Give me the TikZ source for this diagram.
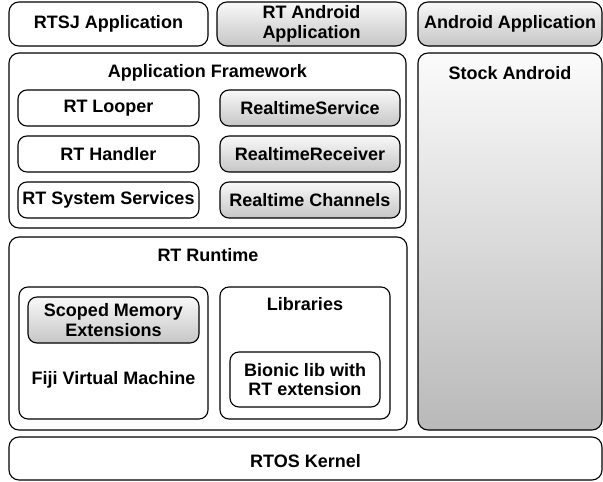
\documentclass[tikz,border=0pt]{standalone}
\usepackage{fontspec}
\setmainfont{Liberation Sans}
\begin{document}
\begin{tikzpicture}[x=1pt,y=-1pt,
  font=\fontsize{18}{19.5}\selectfont\bfseries,
  box/.style={draw=black, line width=1.1pt, rounded corners=10pt, fill=white,
     align=center, inner sep=0pt},
  shade box/.style={box, top color=gray!5, bottom color=gray!45},
  big shade/.style={box, top color=gray!3, bottom color=gray!55},
  title/.style={inner sep=0pt, align=center}]
\useasboundingbox (0,0) rectangle (603,482);
% top row
\node[box, minimum width=199pt, minimum height=44pt] (rtsj) at (108.5,24) {RTSJ Application};
\node[shade box, minimum width=189pt, minimum height=44pt] (rtand) at (311.5,24) {RT Android\\Application};
\node[shade box, minimum width=184pt, minimum height=44pt] (andapp) at (510,24) {Android Application};
% application framework
\node[box, minimum width=397pt, minimum height=175pt] (fw) at (207.5,140.5) {};
\node[title] (fwt) at (207.5,73) {Application Framework};
\node[box, rounded corners=9pt, minimum width=181pt, minimum height=36pt] (looper) at (108.5,108) {RT Looper};
\node[box, rounded corners=9pt, minimum width=181pt, minimum height=36pt] (handler) at (108.5,154) {RT Handler};
\node[box, rounded corners=9pt, minimum width=181pt, minimum height=36pt] (sysserv) at (108.5,200) {RT System Services};
\node[shade box, rounded corners=9pt, minimum width=180pt, minimum height=36pt] (rtserv) at (310,108) {RealtimeService};
\node[shade box, rounded corners=9pt, minimum width=180pt, minimum height=36pt] (rtrecv) at (310,154) {RealtimeReceiver};
\node[shade box, rounded corners=9pt, minimum width=180pt, minimum height=36pt] (rtchan) at (310,200) {Realtime Channels};
% stock android
\node[big shade, minimum width=184pt, minimum height=377pt] (stock) at (510,241.5) {};
\node[title] (stockt) at (510,73) {Stock Android};
% RT runtime
\node[box, minimum width=398pt, minimum height=193pt] (runtime) at (208,333.5) {};
\node[title] (runtimet) at (208,255) {RT Runtime};
\node[box, rounded corners=9pt, minimum width=189pt, minimum height=132pt] (fiji) at (113.5,353) {};
\node[shade box, rounded corners=9pt, minimum width=171pt, minimum height=46pt] (scoped) at (113.5,320) {Scoped Memory\\Extensions};
\node[title] (fijit) at (113.5,380) {Fiji Virtual Machine};
\node[box, rounded corners=9pt, minimum width=170pt, minimum height=132pt] (libs) at (305,353) {};
\node[title] (libst) at (305,304) {Libraries};
\node[box, rounded corners=9pt, minimum width=150pt, minimum height=55pt] (bionic) at (305,379.5) {Bionic lib with\\RT extension};
% kernel
\node[box, minimum width=593pt, minimum height=43pt] (rtos) at (305.5,458.5) {};
\node[title] (rtost) at (305.5,461) {RTOS Kernel};
\end{tikzpicture}
\end{document}
